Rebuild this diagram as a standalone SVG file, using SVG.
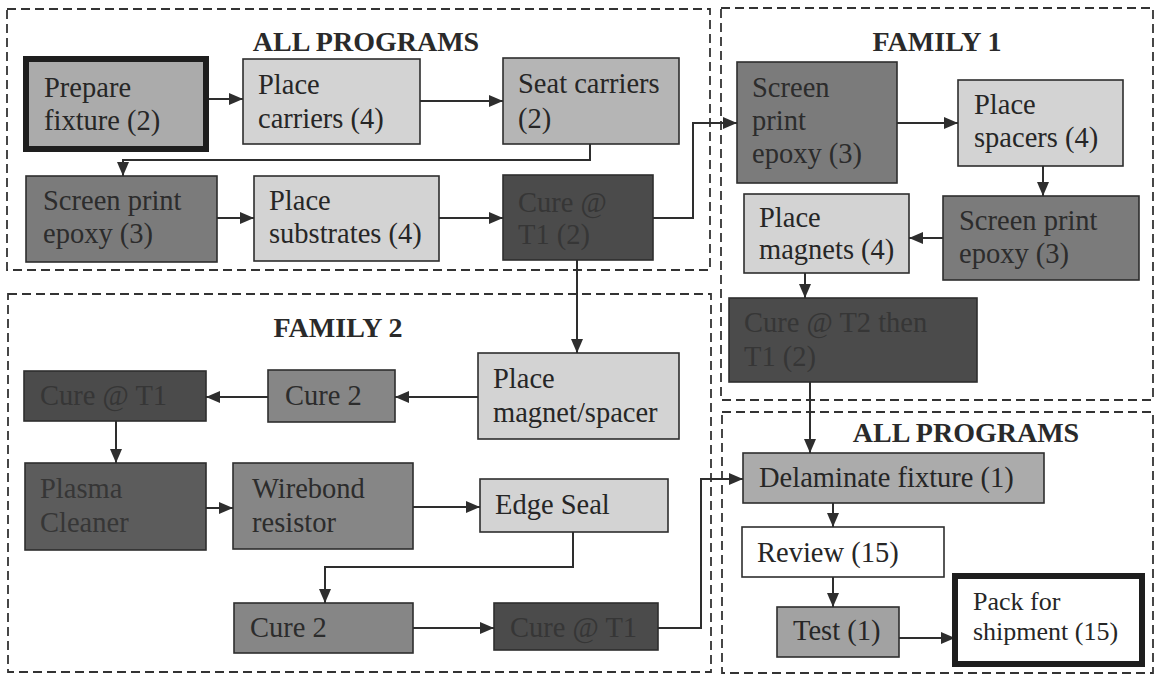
<svg xmlns="http://www.w3.org/2000/svg" width="1156" height="675" viewBox="0 0 1156 675">
  <style>
    .zone { fill: none; stroke: #333333; stroke-width: 1.8; stroke-dasharray: 9 5; }
    .title { font-family: "Liberation Serif", "Times New Roman", serif; font-weight: bold; font-size: 28px; fill: #2a2a2a; text-anchor: middle; }
    .box { stroke: #2e2e2e; stroke-width: 1.6; }
    .thick { stroke: #1e1e1e; stroke-width: 6; }
    .lt { fill: #d3d3d3; }
    .md { fill: #ababab; }
    .dk { fill: #7b7b7b; }
    .dk2 { fill: #868686; }
    .vd { fill: #4b4b4b; }
    .pl { fill: #5c5c5c; }
    .wh { fill: #ffffff; }
    .t { font-family: "Liberation Serif", "Times New Roman", serif; font-size: 28.5px; fill: #262626; }
    .t2 { fill: #2c2c2c; }
    .t3 { fill: #363636; }
    .small { font-size: 26px; }
    .link { fill: none; stroke: #2e2e2e; stroke-width: 2; }
  </style>
  <defs>
    <marker id="arr" viewBox="0 0 14 12" refX="14" refY="6" markerWidth="14" markerHeight="12" markerUnits="userSpaceOnUse" orient="auto">
      <path d="M0,0 L14,6 L0,12 Z" fill="#2e2e2e"/>
    </marker>
  </defs>

  <rect width="1156" height="675" fill="#ffffff"/>

  <!-- dashed program zones -->
  <g id="zones">
    <rect class="zone" x="7" y="9" width="703" height="261"/>
    <rect class="zone" x="8" y="294" width="703" height="378"/>
    <rect class="zone" x="721" y="8" width="432" height="392"/>
    <rect class="zone" x="722" y="412" width="431" height="261"/>
    <text class="title" x="366" y="51">ALL PROGRAMS</text>
    <text class="title" x="937" y="51">FAMILY 1</text>
    <text class="title" x="338" y="337">FAMILY 2</text>
    <text class="title" x="966" y="442">ALL PROGRAMS</text>
  </g>

  <!-- connectors -->
  <g id="connectors">
    <path class="link" marker-end="url(#arr)" d="M209,99 H243"/>
    <path class="link" marker-end="url(#arr)" d="M420,101 H503"/>
    <path class="link" marker-end="url(#arr)" d="M590,144 V160 H123 V176"/>
    <path class="link" marker-end="url(#arr)" d="M217,218 H254"/>
    <path class="link" marker-end="url(#arr)" d="M439,218 H503"/>
    <path class="link" marker-end="url(#arr)" d="M653,218 H693 V123 H737"/>
    <path class="link" marker-end="url(#arr)" d="M577,260 V353"/>
    <path class="link" marker-end="url(#arr)" d="M897,123 H958"/>
    <path class="link" marker-end="url(#arr)" d="M1043,166 V196"/>
    <path class="link" marker-end="url(#arr)" d="M943,238 H909"/>
    <path class="link" marker-end="url(#arr)" d="M805,273 V298"/>
    <path class="link" marker-end="url(#arr)" d="M810,382 V453"/>
    <path class="link" marker-end="url(#arr)" d="M478,397 H395"/>
    <path class="link" marker-end="url(#arr)" d="M268,397 H206"/>
    <path class="link" marker-end="url(#arr)" d="M116,421 V463"/>
    <path class="link" marker-end="url(#arr)" d="M206,508 H233"/>
    <path class="link" marker-end="url(#arr)" d="M413,507 H480"/>
    <path class="link" marker-end="url(#arr)" d="M573,532 V567 H325 V603"/>
    <path class="link" marker-end="url(#arr)" d="M413,628 H494"/>
    <path class="link" marker-end="url(#arr)" d="M658,628 H701 V479 H743"/>
    <path class="link" marker-end="url(#arr)" d="M833,503 V527"/>
    <path class="link" marker-end="url(#arr)" d="M833,577 V607"/>
    <path class="link" marker-end="url(#arr)" d="M899,638 H955"/>
  </g>

  <!-- all programs: front end -->
  <g id="prepare-fixture">
    <rect class="md thick" x="26" y="59" width="180" height="90"/>
    <text class="t"><tspan x="44" y="97">Prepare</tspan><tspan x="44" y="130">fixture (2)</tspan></text>
  </g>
  <g id="place-carriers">
    <rect class="box lt" x="243" y="59" width="177" height="85"/>
    <text class="t"><tspan x="258" y="94">Place</tspan><tspan x="258" y="128">carriers (4)</tspan></text>
  </g>
  <g id="seat-carriers">
    <rect class="box md" x="503" y="58" width="176" height="86" style="fill:#b5b5b5"/>
    <text class="t"><tspan x="518" y="93">Seat carriers</tspan><tspan x="518" y="128">(2)</tspan></text>
  </g>
  <g id="screen-print-1">
    <rect class="box dk" x="26" y="176" width="191" height="86"/>
    <text class="t t2"><tspan x="43" y="210">Screen print</tspan><tspan x="43" y="243">epoxy (3)</tspan></text>
  </g>
  <g id="place-substrates">
    <rect class="box lt" x="254" y="176" width="185" height="85"/>
    <text class="t"><tspan x="269" y="210">Place</tspan><tspan x="269" y="243">substrates (4)</tspan></text>
  </g>
  <g id="cure-t1-a">
    <rect class="box vd" x="503" y="175" width="150" height="85"/>
    <text class="t t3"><tspan x="518" y="212">Cure @</tspan><tspan x="518" y="244">T1 (2)</tspan></text>
  </g>

  <!-- family 1 -->
  <g id="f1-screen-print">
    <rect class="box dk" x="737" y="62" width="160" height="121"/>
    <text class="t t2"><tspan x="752" y="97">Screen</tspan><tspan x="752" y="130">print</tspan><tspan x="752" y="163">epoxy (3)</tspan></text>
  </g>
  <g id="f1-place-spacers">
    <rect class="box lt" x="958" y="80" width="165" height="86"/>
    <text class="t"><tspan x="974" y="114">Place</tspan><tspan x="974" y="147">spacers (4)</tspan></text>
  </g>
  <g id="f1-screen-print-2">
    <rect class="box dk" x="943" y="196" width="196" height="84"/>
    <text class="t t2"><tspan x="959" y="230">Screen print</tspan><tspan x="959" y="263">epoxy (3)</tspan></text>
  </g>
  <g id="f1-place-magnets">
    <rect class="box lt" x="744" y="194" width="165" height="79"/>
    <text class="t"><tspan x="759" y="227">Place</tspan><tspan x="759" y="259">magnets (4)</tspan></text>
  </g>
  <g id="f1-cure-t2-t1">
    <rect class="box vd" x="729" y="298" width="248" height="84"/>
    <text class="t t3"><tspan x="744" y="332">Cure @ T2 then</tspan><tspan x="744" y="366">T1 (2)</tspan></text>
  </g>

  <!-- family 2 -->
  <g id="f2-place-magnet-spacer">
    <rect class="box lt" x="478" y="353" width="201" height="86"/>
    <text class="t"><tspan x="493" y="388">Place</tspan><tspan x="493" y="422">magnet/spacer</tspan></text>
  </g>
  <g id="f2-cure2-a">
    <rect class="box dk2" x="268" y="370" width="127" height="52"/>
    <text class="t t2" x="285" y="405">Cure 2</text>
  </g>
  <g id="f2-cure-t1-a">
    <rect class="box vd" x="24" y="371" width="182" height="50"/>
    <text class="t t3" x="40" y="405">Cure @ T1</text>
  </g>
  <g id="f2-plasma">
    <rect class="box pl" x="25" y="463" width="181" height="87"/>
    <text class="t t3"><tspan x="40" y="498">Plasma</tspan><tspan x="40" y="532">Cleaner</tspan></text>
  </g>
  <g id="f2-wirebond">
    <rect class="box dk2" x="233" y="463" width="180" height="86"/>
    <text class="t t2"><tspan x="252" y="498">Wirebond</tspan><tspan x="252" y="532">resistor</tspan></text>
  </g>
  <g id="f2-edge-seal">
    <rect class="box lt" x="480" y="479" width="188" height="53"/>
    <text class="t" x="495" y="514">Edge Seal</text>
  </g>
  <g id="f2-cure2-b">
    <rect class="box dk2" x="234" y="603" width="179" height="50"/>
    <text class="t t2" x="250" y="637">Cure 2</text>
  </g>
  <g id="f2-cure-t1-b">
    <rect class="box vd" x="494" y="603" width="164" height="47"/>
    <text class="t t3" x="510" y="637">Cure @ T1</text>
  </g>

  <!-- all programs: back end -->
  <g id="delaminate">
    <rect class="box md" x="743" y="453" width="301" height="50"/>
    <text class="t" x="759" y="487">Delaminate fixture (1)</text>
  </g>
  <g id="review">
    <rect class="box wh" x="742" y="527" width="202" height="50"/>
    <text class="t" x="757" y="562">Review (15)</text>
  </g>
  <g id="test">
    <rect class="box md" x="777" y="607" width="122" height="50" style="fill:#a2a2a2"/>
    <text class="t" x="793" y="640">Test (1)</text>
  </g>
  <g id="pack">
    <rect class="wh thick" x="955" y="576" width="187" height="88"/>
    <text class="t small"><tspan x="973" y="610">Pack for</tspan><tspan x="973" y="640">shipment (15)</tspan></text>
  </g>
</svg>
